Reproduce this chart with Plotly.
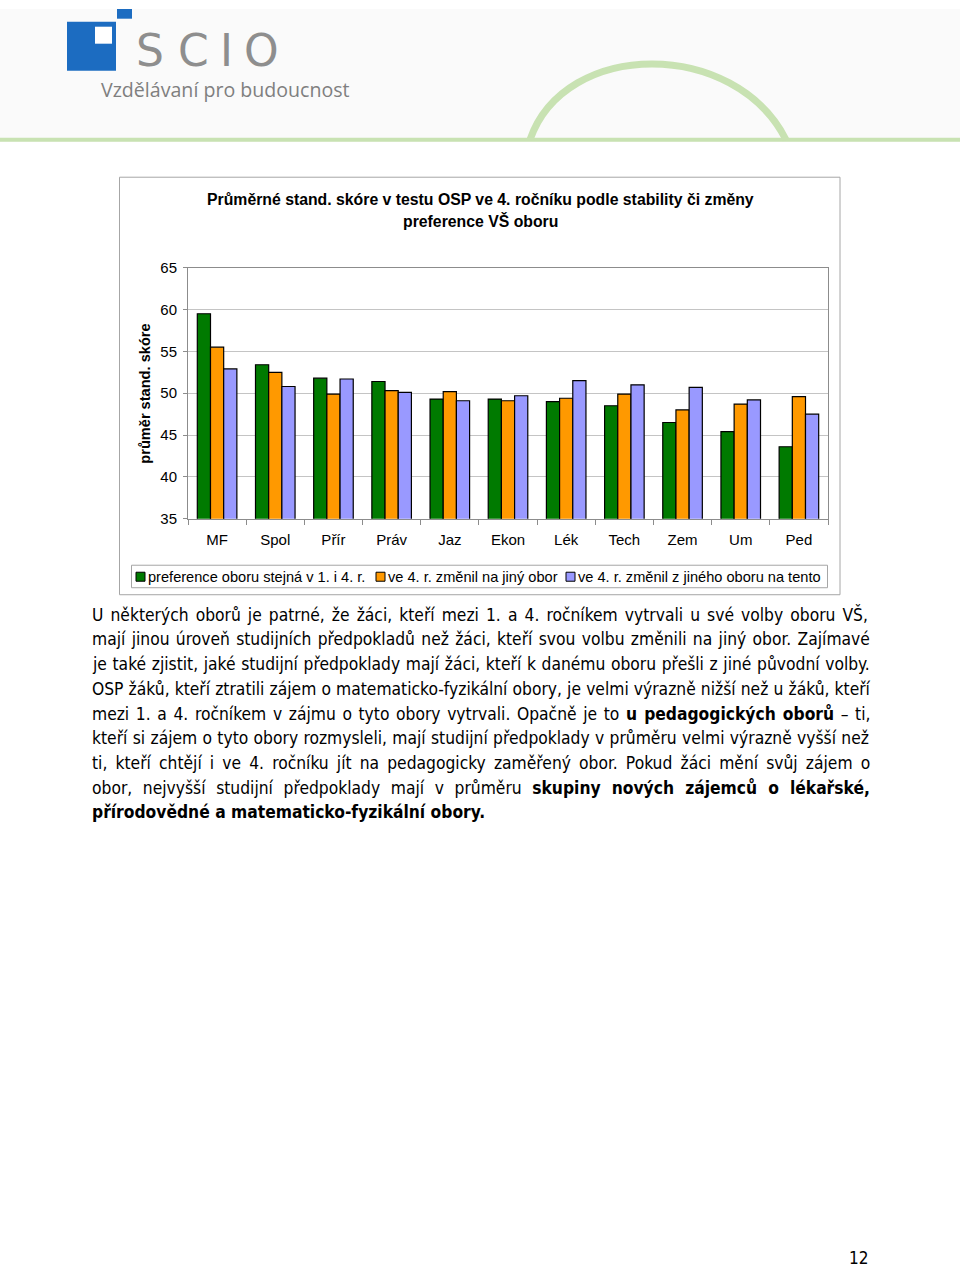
import plotly.graph_objects as go

# ---------------- data ----------------
categories = ["MF", "Spol", "Přír", "Práv", "Jaz", "Ekon", "Lék", "Tech", "Zem", "Um", "Ped"]
series_names = [
    "preference oboru stejná v 1. i 4. r.",
    "ve 4. r. změnil na jiný obor",
    "ve 4. r. změnil z jiného oboru na tento",
]
stejna = [59.5, 53.4, 51.8, 51.4, 49.3, 49.3, 49.0, 48.5, 46.5, 45.4, 43.6]
zmenil_na_jiny = [55.5, 52.5, 49.9, 50.3, 50.2, 49.1, 49.4, 49.9, 48.0, 48.7, 49.6]
zmenil_z_jineho = [52.9, 50.8, 51.7, 50.1, 49.1, 49.7, 51.5, 51.0, 50.7, 49.2, 47.5]
y_ticks = [35, 40, 45, 50, 55, 60, 65]

title_lines = [
    "Průměrné stand. skóre v testu OSP ve 4. ročníku podle stability či změny",
    "preference VŠ oboru",
]
y_title = "průměr stand. skóre"

paragraph_lines = [
    "U některých oborů je patrné, že žáci, kteří mezi 1. a 4. ročníkem vytrvali u své volby oboru VŠ,",
    "mají jinou úroveň studijních předpokladů než žáci, kteří svou volbu změnili na jiný obor. Zajímavé",
    "je také zjistit, jaké studijní předpoklady mají žáci, kteří k danému oboru přešli z jiné původní volby.",
    "OSP žáků, kteří ztratili zájem o matematicko-fyzikální obory, je velmi výrazně nižší než u žáků, kteří",
    "mezi 1. a 4. ročníkem v zájmu o tyto obory vytrvali. Opačně je to <b>u pedagogických oborů</b> – ti,",
    "kteří si zájem o tyto obory rozmysleli, mají studijní předpoklady v průměru velmi výrazně vyšší než",
    "ti, kteří chtějí i ve 4. ročníku jít na pedagogicky zaměřený obor. Pokud žáci mění svůj zájem o",
    "obor, nejvyšší studijní předpoklady mají v průměru <b>skupiny nových zájemců o lékařské,</b>",
    "<b>přírodovědné a matematicko-fyzikální obory.</b>",
]
# extra word spacing (px) that stretches each justified line to the right margin
paragraph_word_spacing = [2.15, 1.4, 0.7, 0.2, 1.7, 0.4, 3.2, 5.7, 0]
page_number = "12"

# ---------------- layout helpers ----------------
# Window pixel -> paper mapping, calibrated on how the page is photographed
# (figure appears ~8px down and vertically compressed by ~1.3%).
W, H = 960, 1273
CAL_A, CAL_B = 8.3, 0.9866


def px(x):
    return x / W


def py(y):
    return 1 - ((y - CAL_A) / CAL_B) / H


colors = ["#007A00", "#FF9900", "#9999FF"]
chart_font = "Arial, Liberation Sans, sans-serif"
text_font = "DejaVu Sans Condensed, DejaVu Sans, sans-serif"

fig = go.Figure()
for name, vals, col in zip(series_names, [stejna, zmenil_na_jiny, zmenil_z_jineho], colors):
    fig.add_trace(go.Bar(
        x=categories, y=vals, name=name, showlegend=False,
        marker=dict(color=col, line=dict(color="black", width=1.2)),
    ))

shapes = []
annotations = []

# header background + decorations
shapes.append(dict(type="rect", xref="paper", yref="paper", x0=0, x1=1, y0=py(141), y1=1,
                   fillcolor="#FAFAFA", line=dict(width=0), layer="below"))
shapes.append(dict(type="line", xref="paper", yref="paper", x0=0, x1=1, y0=py(139), y1=py(139),
                   line=dict(color="#C8E2B2", width=4)))
p0, c1, c2, p3 = (530, 139), (565, 38), (735, 38), (786, 139)
arc = "M{},{} C{},{} {},{} {},{}".format(px(p0[0]), py(p0[1]), px(c1[0]), py(c1[1]),
                                         px(c2[0]), py(c2[1]), px(p3[0]), py(p3[1]))
shapes.append(dict(type="path", xref="paper", yref="paper", path=arc,
                   line=dict(color="#C8E2B2", width=7)))
# logo squares
shapes.append(dict(type="rect", xref="paper", yref="paper", x0=px(67), x1=px(116), y0=py(70), y1=py(21),
                   fillcolor="#1C6CC1", line=dict(width=0)))
shapes.append(dict(type="rect", xref="paper", yref="paper", x0=px(95), x1=px(112), y0=py(43), y1=py(26),
                   fillcolor="white", line=dict(width=0)))
shapes.append(dict(type="rect", xref="paper", yref="paper", x0=px(117), x1=px(132), y0=py(18), y1=1,
                   fillcolor="#1C6CC1", line=dict(width=0)))
for letter, cx in zip(["S", "C", "I", "O"], [150, 193, 226, 261]):
    annotations.append(dict(text=letter, x=px(cx), y=py(50), xref="paper", yref="paper",
                            showarrow=False, xanchor="center", yanchor="middle",
                            font=dict(family="DejaVu Sans, sans-serif", size=44, color="#8E8E8E")))
annotations.append(dict(text="Vzdělávaní pro budoucnost", x=px(99), y=py(89), xref="paper", yref="paper",
                        showarrow=False, xanchor="left", yanchor="middle",
                        font=dict(family="Open Sans, DejaVu Sans, sans-serif", size=19.6, color="#7F7F7F")))

# chart container border
shapes.append(dict(type="rect", xref="paper", yref="paper", x0=px(119.5), x1=px(840), y0=py(594), y1=py(176.5),
                   line=dict(color="#A6A6A6", width=1), fillcolor="rgba(0,0,0,0)"))

# chart title
for i, t in enumerate(title_lines):
    annotations.append(dict(text="<b>" + t + "</b>", x=px(480), y=py(199 + 21 * i), xref="paper", yref="paper",
                            showarrow=False, xanchor="center", yanchor="middle",
                            font=dict(family=chart_font, size=15.8, color="black")))
# y axis title
annotations.append(dict(text="<b>" + y_title + "</b>", x=px(145), y=py(393), xref="paper", yref="paper",
                        showarrow=False, textangle=-90, xanchor="center", yanchor="middle",
                        font=dict(family=chart_font, size=14.6, color="black")))

# custom legend (box, swatches, labels)
shapes.append(dict(type="rect", xref="paper", yref="paper", x0=px(131.5), x1=px(827.5), y0=py(587), y1=py(564.5),
                   line=dict(color="#A6A6A6", width=1), fillcolor="white"))
for name, col, sx in zip(series_names, colors, [136, 376, 566]):
    shapes.append(dict(type="rect", xref="paper", yref="paper", x0=px(sx), x1=px(sx + 9),
                       y0=py(580.5), y1=py(571.5), fillcolor=col, line=dict(color="black", width=1)))
    annotations.append(dict(text=name, x=px(sx + 10), y=py(576), xref="paper", yref="paper",
                            showarrow=False, xanchor="left", yanchor="middle",
                            font=dict(family=chart_font, size=14.6, color="black")))

# paragraph
for i, (line, ws) in enumerate(zip(paragraph_lines, paragraph_word_spacing)):
    txt = '<span style="word-spacing:{}px">{}</span>'.format(ws, line) if ws else line
    annotations.append(dict(text=txt, x=px(90), y=py(614 + 24.7 * i), xref="paper", yref="paper",
                            showarrow=False, xanchor="left", yanchor="middle", align="left",
                            font=dict(family=text_font, size=17.3, color="black")))
annotations.append(dict(text=page_number, x=px(858), y=py(1257), xref="paper", yref="paper",
                        showarrow=False, xanchor="center", yanchor="middle",
                        font=dict(family=text_font, size=17, color="black")))

fig.update_layout(
    width=W, height=H,
    margin=dict(l=0, r=0, t=0, b=0, pad=0),
    paper_bgcolor="white", plot_bgcolor="white",
    barmode="group", bargap=0.32, bargroupgap=0,
    font=dict(family=chart_font, size=15, color="black"),
    xaxis=dict(domain=[px(188), px(828)], type="category",
               showline=True, linecolor="#8C8C8C", linewidth=1, mirror=True,
               ticks="outside", tickson="boundaries", ticklen=5, tickcolor="#8C8C8C",
               ticklabelstandoff=7, tickfont=dict(size=15, family=chart_font),
               showgrid=False, fixedrange=True),
    yaxis=dict(domain=[py(518), py(267)], range=[35, 65], tickvals=y_ticks,
               showline=True, linecolor="#8C8C8C", linewidth=1, mirror=True,
               ticks="outside", ticklen=4, tickcolor="#8C8C8C", ticklabelstandoff=3,
               showgrid=True, gridcolor="#C4C4C4", gridwidth=1, zeroline=False,
               tickfont=dict(size=15, family=chart_font), fixedrange=True),
    shapes=shapes, annotations=annotations,
    showlegend=False,
)

reset_css = (
    "document.documentElement.style.margin='0';document.documentElement.style.padding='0';"
    "document.body.style.margin='0';document.body.style.padding='0';"
    "var gd=document.getElementById('{plot_id}');gd.style.margin='0';"
    "if(gd.parentElement){gd.parentElement.style.margin='0';gd.parentElement.style.padding='0';}"
)
fig.write_html("out.html", config={"displayModeBar": False}, post_script=reset_css)
